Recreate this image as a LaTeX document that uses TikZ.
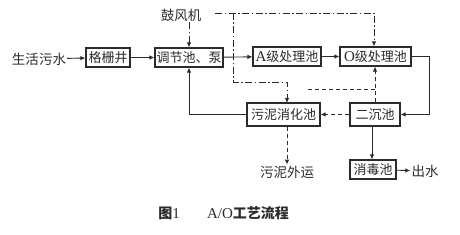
\documentclass[tikz,border=0pt]{standalone}
\usepackage{fontspec}
\setmainfont{Liberation Serif}
\newfontfamily\cjk{Noto Sans CJK SC}
\usetikzlibrary{arrows.meta,positioning}
\definecolor{aoInk}{HTML}{2b2b2b}
\tikzset{
  >={Latex[length=5pt,width=4.5pt]},
  pool/.style={draw=aoInk, line width=1.1pt, fill=white, inner xsep=1.5pt,
              inner ysep=0pt, minimum height=19pt, text=aoInk,
              font=\cjk\fontsize{13pt}{15pt}\selectfont},
  lbl/.style={text=aoInk, inner sep=1pt, font=\cjk\fontsize{13.5pt}{15pt}\selectfont},
  figcap/.style={text=aoInk, inner sep=1pt, font=\cjk\bfseries\fontsize{14pt}{16pt}\selectfont},
  flow/.style={->, draw=aoInk, line width=0.9pt},
  sludge/.style={->, draw=aoInk, line width=0.9pt, dash pattern=on 4pt off 3pt},
  air/.style={->, draw=aoInk, line width=0.9pt,
              dash pattern=on 7pt off 2.5pt on 1.5pt off 2.5pt},
}
\newcommand{\latin}[1]{{\rmfamily\mdseries\fontsize{15pt}{16pt}\selectfont #1}}
\begin{document}
\begin{tikzpicture}[x=1pt,y=-1pt]
  \useasboundingbox (0,0) rectangle (460,235);
  % main line
  \node[lbl] (sewage) at (39,59) {生活污水};
  \node[pool,minimum width=44pt] (screen) at (108,57.5) {格栅井};
  \node[pool,minimum width=68pt] (equal) at (189,57.5) {调节池、泵};
  \node[pool,minimum width=68pt] (anox) at (287,56.5) {\latin{A}级处理池};
  \node[pool,minimum width=71pt] (oxic) at (375.5,56.5) {\latin{O}级处理池};
  \node[pool,minimum width=50pt,minimum height=23pt] (settle) at (375,114.5) {二沉池};
  \node[pool,minimum width=73pt,minimum height=23pt] (digest) at (283.5,114.5) {污泥消化池};
  \node[pool,minimum width=46pt] (disinf) at (373,169.5) {消毒池};
  \node[lbl] (effluent) at (425,171) {出水};
  \node[lbl] (haul) at (287,172) {污泥外运};
  \node[lbl] (blower) at (181,15) {鼓风机};
  % caption
  \node[figcap] (fignum) at (169,213) {图\latin{1}};
  \node[figcap] (title) at (248,213) {\latin{A/O}工艺流程};
  % helper points
  \coordinate (airA) at (215,13);
  \coordinate (airB) at (233,13);
  \coordinate (rsA) at (375,89);
  \coordinate (rsB) at (307,89);
  % water
  \draw[flow] (sewage) -- (screen);
  \draw[flow] (screen) -- (equal);
  \draw[flow] (equal) -- (anox);
  \draw[flow] (anox) -- (oxic);
  \draw[flow] (oxic.east) -- (429,56.5) |- (settle.east);
  \draw[flow] ([xshift=-1pt]disinf.north |- settle.south) -- ([xshift=-1pt]disinf.north);
  \draw[flow] (disinf) -- (effluent);
  \draw[flow] (digest.west) -| (equal.south);
  % sludge
  \draw[sludge] (settle) -- (digest);
  \draw[sludge] (settle.north) -- (oxic.south -| settle.north);
  \draw[draw=aoInk, line width=0.9pt, dash pattern=on 4pt off 3pt] (rsA) -- (rsB);
  \draw[sludge] ([xshift=3.5pt]digest.south) -- ([xshift=3.5pt]digest.south |- haul.north);
  % air
  \draw[air] (blower.south -| equal.north) -- (equal.north);
  \draw[air] (airA) -| ([xshift=-1.5pt]oxic.north);
  \draw[air] (airB) |- (287,82) -- (287,103);
\end{tikzpicture}
\end{document}
